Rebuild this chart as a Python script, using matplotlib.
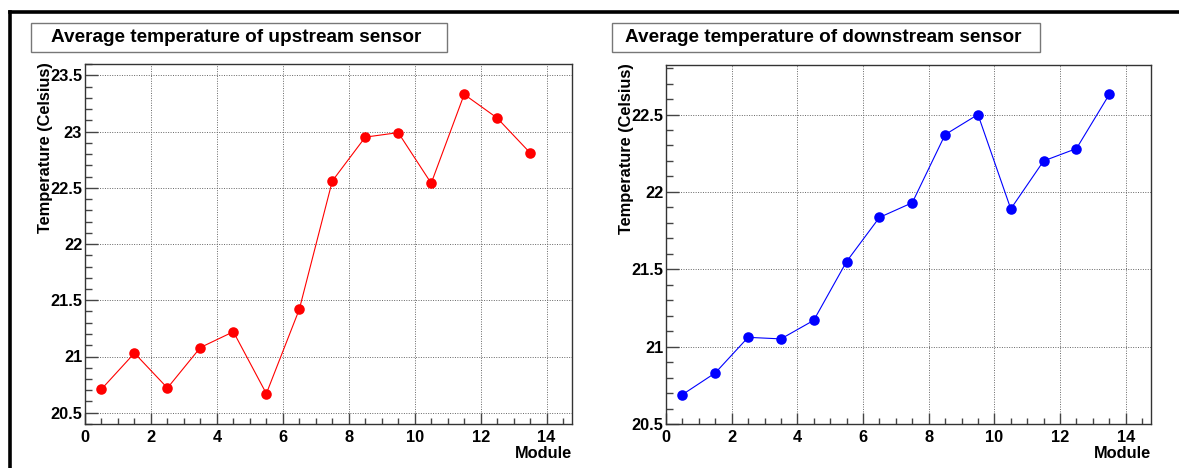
import matplotlib
matplotlib.use("Agg")
import matplotlib.pyplot as plt
from matplotlib.lines import Line2D
from matplotlib.patches import Rectangle
from matplotlib.ticker import MultipleLocator

plt.rcParams["font.family"] = ["Liberation Sans", "DejaVu Sans"]
plt.rcParams["font.weight"] = "bold"

# Module positions (bin centres)
modules = [0.5, 1.5, 2.5, 3.5, 4.5, 5.5, 6.5, 7.5, 8.5, 9.5, 10.5, 11.5, 12.5, 13.5]

# Average temperatures
upstream = [20.71, 21.03, 20.72, 21.08, 21.22, 20.67, 21.42,
            22.56, 22.95, 22.99, 22.54, 23.33, 23.12, 22.81]
downstream = [20.69, 20.83, 21.06, 21.05, 21.17, 21.55, 21.835,
              21.93, 22.37, 22.50, 21.89, 22.20, 22.28, 22.63]

titles = ["Average temperature of upstream sensor",
          "Average temperature of downstream sensor"]
ylabel = "Temperature (Celsius)"
xlabel = "Module"

W, H = 1179, 468
fig = plt.figure(figsize=(W / 100, H / 100), dpi=100)


def fx(px):
    return px / W


def fy(py):
    return 1 - py / H


# outer canvas border (top and left only visible)
fig.add_artist(Line2D([fx(10), 1], [fy(11.5), fy(11.5)], color="black", lw=2.6))
fig.add_artist(Line2D([fx(10), fx(10)], [fy(11.5), 0], color="black", lw=2.6))

panels = [
    dict(data=upstream, color="red", frame=(85, 572, 64, 424),
         ylim=(20.4, 23.6), box=(31, 447, 23, 52), ylab_x=46),
    dict(data=downstream, color="blue", frame=(666, 1151, 65, 424),
         ylim=(20.5, 22.82), box=(612, 1040, 23, 52), ylab_x=627),
]

for p, title in zip(panels, titles):
    x0, x1, y0, y1 = p["frame"]
    ax = fig.add_axes([fx(x0), fy(y1), (x1 - x0) / W, (y1 - y0) / H])
    ax.plot(modules, p["data"], color=p["color"], lw=0.8, marker="o",
            markersize=7.6, markeredgewidth=0)
    ax.set_xlim(0, 14.77)
    ax.set_ylim(*p["ylim"])
    ax.xaxis.set_major_locator(MultipleLocator(2))
    ax.xaxis.set_minor_locator(MultipleLocator(0.5))
    ax.yaxis.set_major_locator(MultipleLocator(0.5))
    ax.yaxis.set_minor_locator(MultipleLocator(0.1))
    ax.yaxis.set_major_formatter(lambda v, pos: f"{v:g}")
    ax.xaxis.set_major_formatter(lambda v, pos: f"{v:g}")
    ax.tick_params(axis="x", which="major", direction="in", length=8, width=1,
                   color="#444", pad=4, labelsize=11.8)
    ax.tick_params(axis="x", which="minor", direction="in", length=4, width=1,
                   color="#444")
    ax.tick_params(axis="y", which="major", direction="in", length=9.5, width=1,
                   color="#444", pad=2, labelsize=11.8)
    ax.tick_params(axis="y", which="minor", direction="in", length=5, width=1,
                   color="#444")
    for lab in ax.get_xticklabels() + ax.get_yticklabels():
        lab.set_fontweight("bold")
    ax.grid(True, which="major", color="#666", lw=0.7, linestyle=(0, (1, 1.5)))
    for s in ax.spines.values():
        s.set_color("#333")
        s.set_linewidth(1)

    # title box
    bx0, bx1, by0, by1 = p["box"]
    fig.add_artist(Rectangle((fx(bx0), fy(by1)), (bx1 - bx0) / W, (by1 - by0) / H,
                             facecolor="white", edgecolor="#777", lw=1))
    fig.text(fx((bx0 + bx1) / 2 - 3), fy((by0 + by1) / 2), title, ha="center",
             va="center", fontsize=13.7, fontweight="bold")

    # axis titles
    fig.text(fx(p["ylab_x"]), fy(y0 - 2), ylabel, rotation=90, ha="center",
             va="top", fontsize=11.8, fontweight="bold")
    fig.text(fx(x1), fy(453), xlabel, ha="right", va="center",
             fontsize=11.8, fontweight="bold")

fig.savefig("out.png", dpi=100)
